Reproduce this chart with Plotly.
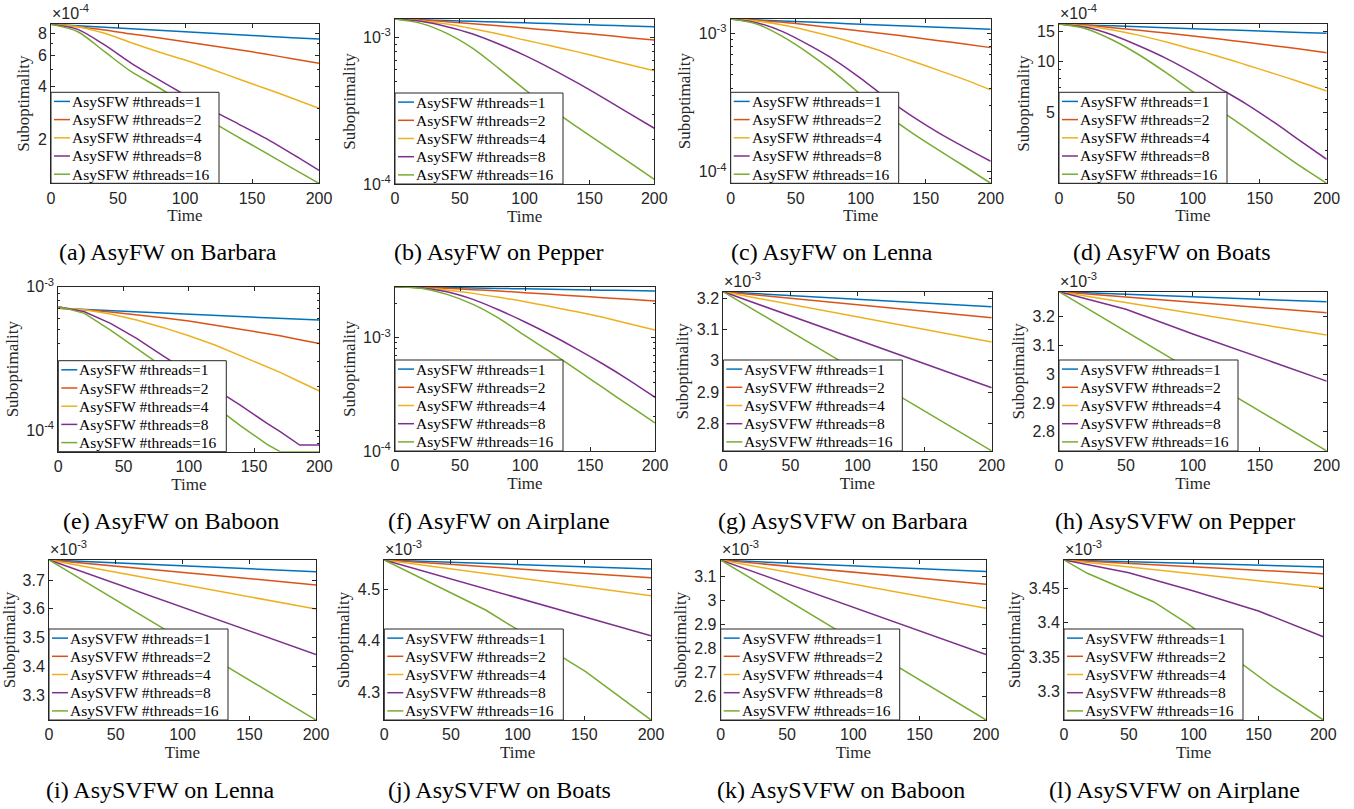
import math
import plotly.graph_objects as go

W, H = 1354, 809

COLORS = ["#0072BD", "#D95319", "#EDB120", "#7E2F8E", "#77AC30"]
THREADS = [1, 2, 4, 8, 16]

# ---------------- time grids ----------------
T11 = [0, 20, 40, 60, 80, 100, 120, 140, 160, 180, 200]
T5 = [0, 50, 100, 150, 200]
T_E = [0, 20, 40, 60, 80, 100, 120, 140, 160, 170, 185, 200]
T_J = [0, 50, 76, 100, 151, 200]
T_L16 = [0, 18, 69, 95, 161, 200]

# ---------------- values (units of 1e-3) ----------------
A1 = [0.900, 0.884, 0.867, 0.850, 0.834, 0.817, 0.802, 0.786, 0.771, 0.756, 0.743]
A2 = [0.900, 0.873, 0.836, 0.793, 0.756, 0.717, 0.681, 0.646, 0.610, 0.574, 0.540]
A4 = [0.900, 0.873, 0.800, 0.708, 0.629, 0.564, 0.500, 0.440, 0.389, 0.342, 0.300]
A8 = [0.900, 0.843, 0.687, 0.540, 0.438, 0.357, 0.293, 0.244, 0.203, 0.165, 0.133]
A16 = [0.900, 0.817, 0.629, 0.484, 0.395, 0.317, 0.252, 0.205, 0.168, 0.137, 0.1124]

B1 = [1.334, 1.318, 1.302, 1.286, 1.271, 1.256, 1.241, 1.226, 1.211, 1.197, 1.182]
B2 = [1.334, 1.313, 1.279, 1.240, 1.201, 1.158, 1.116, 1.076, 1.037, 0.995, 0.959]
B4 = [1.334, 1.299, 1.233, 1.146, 1.054, 0.959, 0.877, 0.799, 0.723, 0.654, 0.592]
B8 = [1.334, 1.286, 1.182, 1.054, 0.901, 0.754, 0.615, 0.493, 0.390, 0.306, 0.240]
B16 = [1.334, 1.246, 1.065, 0.841, 0.615, 0.442, 0.328, 0.246, 0.187, 0.142, 0.1076]

C1 = [1.269, 1.248, 1.227, 1.206, 1.185, 1.165, 1.145, 1.126, 1.106, 1.087, 1.069]
C2 = [1.269, 1.242, 1.201, 1.149, 1.093, 1.040, 0.989, 0.936, 0.885, 0.838, 0.788]
C4 = [1.269, 1.228, 1.149, 1.045, 0.936, 0.828, 0.725, 0.628, 0.540, 0.463, 0.390]
C8 = [1.269, 1.194, 1.028, 0.824, 0.641, 0.473, 0.339, 0.250, 0.191, 0.150, 0.119]
C16 = [1.269, 1.168, 0.946, 0.717, 0.520, 0.362, 0.257, 0.189, 0.143, 0.109, 0.0824]

D1 = [1.669, 1.648, 1.627, 1.606, 1.586, 1.566, 1.546, 1.527, 1.508, 1.489, 1.470]
D2 = [1.669, 1.639, 1.588, 1.531, 1.476, 1.418, 1.361, 1.301, 1.243, 1.188, 1.130]
D4 = [1.669, 1.624, 1.538, 1.430, 1.307, 1.183, 1.070, 0.956, 0.853, 0.759, 0.671]
D8 = [1.669, 1.595, 1.437, 1.237, 1.046, 0.861, 0.696, 0.562, 0.442, 0.342, 0.265]
D16 = [1.669, 1.566, 1.343, 1.095, 0.861, 0.665, 0.518, 0.404, 0.312, 0.242, 0.191]

E1 = [0.706, 0.693, 0.680, 0.668, 0.655, 0.643, 0.631, 0.619, 0.608, 0.602, 0.594, 0.585]
E2 = [0.706, 0.691, 0.666, 0.638, 0.608, 0.576, 0.540, 0.507, 0.4725, 0.455, 0.427, 0.402]
E4 = [0.714, 0.691, 0.645, 0.585, 0.520, 0.455, 0.392, 0.330, 0.2765, 0.2525, 0.2173, 0.1871]
E8 = [0.725, 0.669, 0.555, 0.436, 0.330, 0.2525, 0.1932, 0.1478, 0.1113, 0.0974, 0.0786, 0.0786]
E16 = [0.729, 0.652, 0.4985, 0.3713, 0.2765, 0.2006, 0.1455, 0.1066, 0.0794, 0.0706, 0.0706, 0.0706]

F1 = [2.818, 2.794, 2.770, 2.745, 2.721, 2.697, 2.674, 2.650, 2.627, 2.604, 2.581]
F2 = [2.818, 2.780, 2.725, 2.652, 2.581, 2.495, 2.412, 2.331, 2.254, 2.179, 2.106]
F4 = [2.818, 2.762, 2.634, 2.461, 2.269, 2.078, 1.877, 1.696, 1.512, 1.329, 1.169]
F8 = [2.818, 2.762, 2.546, 2.179, 1.754, 1.375, 1.056, 0.794, 0.586, 0.423, 0.298]
F16 = [2.818, 2.725, 2.412, 1.968, 1.481, 1.041, 0.742, 0.519, 0.362, 0.253, 0.177]

G1 = [3.221, 3.209, 3.197, 3.185, 3.173]
G2 = [3.221, 3.200, 3.180, 3.159, 3.138]
G4 = [3.221, 3.181, 3.141, 3.100, 3.060]
G8 = [3.221, 3.144, 3.067, 2.991, 2.914]
G16 = [3.221, 3.094, 2.966, 2.839, 2.712]

H1 = [3.287, 3.278, 3.270, 3.261, 3.252]
H2 = [3.287, 3.269, 3.251, 3.232, 3.214]
H4 = [3.287, 3.249, 3.211, 3.174, 3.136]
H8 = [3.287, 3.226, 3.140, 3.057, 2.976]
H16 = [3.287, 3.148, 3.009, 2.871, 2.733]

I1 = [3.770, 3.760, 3.749, 3.739, 3.729]
I2 = [3.770, 3.748, 3.726, 3.705, 3.683]
I4 = [3.770, 3.727, 3.684, 3.642, 3.599]
I8 = [3.770, 3.688, 3.606, 3.523, 3.441]
I16 = [3.770, 3.631, 3.491, 3.352, 3.213]

J1 = [4.557, 4.5526, 4.5503, 4.5483, 4.5438, 4.5395]
J2 = [4.557, 4.5484, 4.544, 4.5399, 4.5311, 4.5227]
J4 = [4.557, 4.5397, 4.5307, 4.5224, 4.5047, 4.4877]
J8 = [4.557, 4.5203, 4.5011, 4.4835, 4.4460, 4.410]
J16 = [4.557, 4.4931, 4.4599, 4.4216, 4.3401, 4.2463]

K1 = [3.169, 3.157, 3.145, 3.133, 3.121]
K2 = [3.169, 3.144, 3.119, 3.093, 3.068]
K4 = [3.169, 3.119, 3.069, 3.018, 2.968]
K8 = [3.169, 3.071, 2.973, 2.874, 2.776]
K16 = [3.169, 3.003, 2.836, 2.670, 2.503]

L1 = [3.4911, 3.4886, 3.4861, 3.4835, 3.4810]
L2 = [3.4911, 3.4861, 3.4812, 3.4762, 3.4713]
L4 = [3.4911, 3.4811, 3.4710, 3.4610, 3.4510]
L8 = [3.4911, 3.4727, 3.4461, 3.4171, 3.3798]
L16 = [3.4911, 3.4718, 3.4306, 3.3992, 3.3073, 3.2589]

# ---------------- y tick labels ----------------
TICKS_A = [0.2, 0.4, 0.6, 0.8]
TICKTEXT_A = ["2", "4", "6", "8"]
TICKS_D = [0.5, 1.0, 1.5]
TICKTEXT_D = ["5", "10", "15"]
TICKS_DEC = [0.1, 1.0]
TICKTEXT_DEC = ["10<sup>-4</sup>", "10<sup>-3</sup>"]
TICKS_G = [2.8, 2.9, 3.0, 3.1, 3.2]
TICKTEXT_G = ["2.8", "2.9", "3", "3.1", "3.2"]
TICKS_I = [3.3, 3.4, 3.5, 3.6, 3.7]
TICKTEXT_I = ["3.3", "3.4", "3.5", "3.6", "3.7"]
TICKS_J = [4.3, 4.4, 4.5]
TICKTEXT_J = ["4.3", "4.4", "4.5"]
TICKS_K = [2.6, 2.7, 2.8, 2.9, 3.0, 3.1]
TICKTEXT_K = ["2.6", "2.7", "2.8", "2.9", "3", "3.1"]
TICKS_L = [3.3, 3.35, 3.4, 3.45]
TICKTEXT_L = ["3.3", "3.35", "3.4", "3.45"]
X_TICKS = [0, 50, 100, 150, 200]

PANELS = [
    dict(cap="(a) AsyFW on Barbara", cx=168, row=0, box=(51, 24, 319, 183.3), log=True, shape="spline",
         yr=(0.1124, 0.904), tv=TICKS_A, tt=TICKTEXT_A, exp="×10<sup>-4</sup>", m="AsySFW",
         t=[T11] * 5, s=[A1, A2, A4, A8, A16]),
    dict(cap="(b) AsyFW on Pepper", cx=499, row=0, box=(395, 19, 654.3, 184), log=True, shape="spline",
         yr=(0.1, 1.334), tv=TICKS_DEC, tt=TICKTEXT_DEC, exp=None, m="AsySFW",
         t=[T11] * 5, s=[B1, B2, B4, B8, B16]),
    dict(cap="(c) AsyFW on Lenna", cx=832, row=0, box=(730.7, 19, 990.7, 183.3), log=True, shape="spline",
         yr=(0.0824, 1.269), tv=TICKS_DEC, tt=TICKTEXT_DEC, exp=None, m="AsySFW",
         t=[T11] * 5, s=[C1, C2, C4, C8, C16]),
    dict(cap="(d) AsyFW on Boats", cx=1172, row=0, box=(1059, 24, 1326.7, 183.3), log=True, shape="spline",
         yr=(0.1912, 1.669), tv=TICKS_D, tt=TICKTEXT_D, exp="×10<sup>-4</sup>", m="AsySFW",
         t=[T11] * 5, s=[D1, D2, D4, D8, D16]),
    dict(cap="(e) AsyFW on Baboon", cx=171, row=1, box=(58.3, 286.7, 319.3, 451.7), log=True, shape="linear",
         yr=(0.0706, 1.0), tv=TICKS_DEC, tt=TICKTEXT_DEC, exp=None, m="AsySFW",
         t=[T_E] * 5, s=[E1, E2, E4, E8, E16]),
    dict(cap="(f) AsyFW on Airplane", cx=499, row=1, box=(395, 286.7, 655, 451), log=True, shape="spline",
         yr=(0.1, 2.818), tv=TICKS_DEC, tt=TICKTEXT_DEC, exp=None, m="AsySFW",
         t=[T11] * 5, s=[F1, F2, F4, F8, F16]),
    dict(cap="(g) AsySVFW on Barbara", cx=843, row=1, box=(723.3, 291.7, 991.7, 451), log=False, shape="linear",
         yr=(2.7115, 3.2213), tv=TICKS_G, tt=TICKTEXT_G, exp="×10<sup>-3</sup>", m="AsySVFW",
         t=[T5] * 5, s=[G1, G2, G4, G8, G16]),
    dict(cap="(h) AsySVFW on Pepper", cx=1175, row=1, box=(1059, 291.7, 1326.7, 451), log=False, shape="linear",
         yr=(2.7328, 3.287), tv=TICKS_G, tt=TICKTEXT_G, exp="×10<sup>-3</sup>", m="AsySVFW",
         t=[T5] * 5, s=[H1, H2, H4, H8, H16]),
    dict(cap="(i) AsySVFW on Lenna", cx=160, row=2, box=(49, 560, 316, 720), log=False, shape="linear",
         yr=(3.213, 3.7696), tv=TICKS_I, tt=TICKTEXT_I, exp="×10<sup>-3</sup>", m="AsySVFW",
         t=[T5] * 5, s=[I1, I2, I4, I8, I16]),
    dict(cap="(j) AsySVFW on Boats", cx=499, row=2, box=(384.3, 560, 651, 720), log=False, shape="linear",
         yr=(4.2463, 4.557), tv=TICKS_J, tt=TICKTEXT_J, exp="×10<sup>-3</sup>", m="AsySVFW",
         t=[T_J] * 5, s=[J1, J2, J4, J8, J16]),
    dict(cap="(k) AsySVFW on Baboon", cx=841, row=2, box=(720.7, 560, 986, 720), log=False, shape="linear",
         yr=(2.5028, 3.1694), tv=TICKS_K, tt=TICKTEXT_K, exp="×10<sup>-3</sup>", m="AsySVFW",
         t=[T5] * 5, s=[K1, K2, K4, K8, K16]),
    dict(cap="(l) AsySVFW on Airplane", cx=1174, row=2, box=(1064, 560, 1323.3, 720), log=False, shape="linear",
         yr=(3.2589, 3.4911), tv=TICKS_L, tt=TICKTEXT_L, exp="×10<sup>-3</sup>", m="AsySVFW",
         t=[T5, T5, T5, T5, T_L16], s=[L1, L2, L4, L8, L16]),
]

CAPTION_Y = [252, 521, 790]
AX_COLOR = "#262626"
SCALE = 1e-3
SERIF = "Liberation Serif, Times New Roman, serif"
SANS = "Liberation Sans, Arial, sans-serif"
LEG_W = {"AsySFW": 168, "AsySVFW": 179}
LEG_H = 91


def px(xp):
    return xp / W


def py(yp):
    return 1 - yp / H


fig = go.Figure()
layout = dict(
    width=W, height=H, autosize=False,
    margin=dict(l=0, r=0, t=0, b=0, pad=0, autoexpand=False),
    paper_bgcolor="white", plot_bgcolor="white",
    showlegend=False, annotations=[], shapes=[],
)

for i, p in enumerate(PANELS):
    n = i + 1
    sfx = "" if n == 1 else str(n)
    xa, ya = "x" + sfx, "y" + sfx
    for k in range(5):
        fig.add_trace(go.Scatter(
            x=p["t"][k], y=[v * SCALE for v in p["s"][k]], mode="lines",
            line=dict(color=COLORS[k], width=1.5, shape=p["shape"], smoothing=0.8),
            name=f"{p['m']} #threads={THREADS[k]}",
            xaxis=xa, yaxis=ya, showlegend=False,
        ))
    x0, y0, x1, y1 = p["box"]
    common = dict(
        showline=True, linecolor=AX_COLOR, linewidth=1, mirror="allticks",
        ticks="inside", ticklen=4, tickwidth=1, tickcolor=AX_COLOR,
        showgrid=False, zeroline=False, automargin=False,
        tickfont=dict(family=SANS, size=16, color=AX_COLOR),
    )
    layout["xaxis" + sfx] = dict(
        common, domain=[px(x0), px(x1)], anchor=ya, range=[0, 200],
        tickmode="array", tickvals=X_TICKS, ticktext=[str(v) for v in X_TICKS],
        title=dict(text="Time", font=dict(family=SERIF, size=17, color=AX_COLOR), standoff=3),
    )
    yvals = [v * SCALE for v in p["tv"]]
    lo, hi = p["yr"][0] * SCALE, p["yr"][1] * SCALE
    yax = dict(
        common, domain=[py(y1), py(y0)], anchor=xa,
        tickmode="array", tickvals=yvals, ticktext=p["tt"],
        title=dict(text="Suboptimality", font=dict(family=SERIF, size=17, color=AX_COLOR), standoff=3),
    )
    if p["log"]:
        minor = [m * 10 ** e for e in range(-6, -1) for m in range(1, 10) if lo <= m * 10 ** e <= hi]
        yax.update(type="log", range=[math.log10(lo), math.log10(hi)],
                   minor=dict(tickmode="array", tickvals=minor, ticks="inside", ticklen=2, tickcolor=AX_COLOR))
    else:
        yax.update(type="linear", range=[lo, hi])
    layout["yaxis" + sfx] = yax

    # legend box (drawn in the lower-left corner of each panel)
    lw = LEG_W[p["m"]]
    lt = y1 - LEG_H
    layout["shapes"].append(dict(
        type="rect", xref="paper", yref="paper", layer="above",
        x0=px(x0), x1=px(x0 + lw), y0=py(y1), y1=py(lt),
        line=dict(color=AX_COLOR, width=1), fillcolor="white",
    ))
    for k in range(5):
        rc = lt + 9.1 + 18.2 * k
        layout["shapes"].append(dict(
            type="line", xref="paper", yref="paper", layer="above",
            x0=px(x0 + 3), x1=px(x0 + 19), y0=py(rc), y1=py(rc),
            line=dict(color=COLORS[k], width=1.5),
        ))
        layout["annotations"].append(dict(
            text=f"{p['m']} #threads={THREADS[k]}", x=px(x0 + 20), y=py(rc),
            xref="paper", yref="paper", xanchor="left", yanchor="middle", showarrow=False,
            font=dict(family=SERIF, size=15.5, color="black"), borderpad=0,
        ))
    if p["exp"]:
        layout["annotations"].append(dict(
            text=p["exp"], x=px(x0), y=py(y0 - 1), xref="paper", yref="paper",
            xanchor="left", yanchor="bottom", showarrow=False,
            font=dict(family=SANS, size=16, color=AX_COLOR), borderpad=0,
        ))
    layout["annotations"].append(dict(
        text=p["cap"], x=px(p["cx"]), y=py(CAPTION_Y[p["row"]]),
        xref="paper", yref="paper", xanchor="center", yanchor="middle", showarrow=False,
        font=dict(family=SERIF, size=24, color="black"),
    ))

fig.update_layout(**layout)
fig.write_html(
    "out.html",
    config={"displayModeBar": False},
    post_script="document.body.style.margin='0';document.body.style.overflow='hidden';",
)
